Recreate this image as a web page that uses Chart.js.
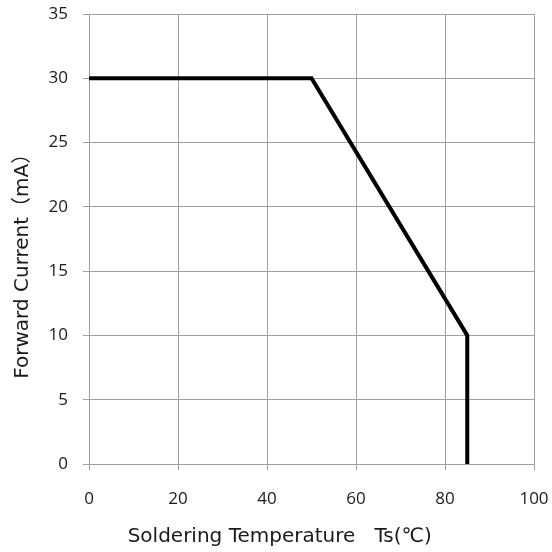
<!DOCTYPE html>
<html>
<head>
<meta charset="utf-8">
<script src="https://cdn.jsdelivr.net/npm/chart.js@4"></script>
<style>
  html, body { margin: 0; padding: 0; background: #fff; }
  #wrap { width: 552px; height: 552px; }
</style>
</head>
<body>
<div id="wrap"><canvas id="derating" width="552" height="552"></canvas></div>
<script>
// Derating curve: forward current vs soldering temperature
const temps = [0, 50, 85, 85];
const currents = [30, 30, 10, 0];
const xTicks = [0, 20, 40, 60, 80, 100];
const yTicks = [0, 5, 10, 15, 20, 25, 30, 35];

const tickFont = "'Open Sans', sans-serif";
const titleFont = "'DejaVu Sans', 'Noto Sans CJK SC', sans-serif";
const gridColor = '#a0a0a0';

// titles in the original sit off-centre; trailing spaces nudge them over
const xTitle = 'Soldering Temperature   Ts(℃)' + ' '.repeat(10);
const yTitle = 'Forward Current（mA）' + ' '.repeat(7);

new Chart(document.getElementById('derating').getContext('2d'), {
    type: 'scatter',
    data: {
        datasets: [{
            data: temps.map((t, i) => ({ x: t, y: currents[i] })),
            showLine: true,
            borderColor: '#000',
            borderWidth: 4,
            pointRadius: 0,
            tension: 0,
            fill: false
        }]
    },
    options: {
        responsive: false,
        animation: false,
        layout: { padding: { left: 11, right: 18, top: 14, bottom: 2 } },
        plugins: {
            legend: { display: false },
            tooltip: { enabled: false }
        },
        scales: {
            x: {
                type: 'linear',
                min: 0,
                max: 100,
                afterBuildTicks: (scale) => { scale.ticks = xTicks.map(v => ({ value: v })); },
                afterFit: (scale) => {
                    scale.height = 86;
                    scale.paddingLeft = 0;
                    scale.paddingRight = 0;
                },
                grid: { color: gridColor, lineWidth: 1, tickLength: 6 },
                border: { color: gridColor, width: 1 },
                ticks: { color: '#1a1a1a', padding: 19, font: { family: tickFont, size: 17 } },
                title: {
                    display: true,
                    text: xTitle,
                    color: '#1a1a1a',
                    padding: { top: 0, bottom: 1 },
                    font: { family: titleFont, size: 20 }
                }
            },
            y: {
                type: 'linear',
                min: 0,
                max: 35,
                afterBuildTicks: (scale) => { scale.ticks = yTicks.map(v => ({ value: v })); },
                afterFit: (scale) => {
                    scale.width = 78;
                    scale.paddingTop = 0;
                    scale.paddingBottom = 0;
                },
                grid: { color: gridColor, lineWidth: 1, tickLength: 6 },
                border: { color: gridColor, width: 1 },
                ticks: { color: '#1a1a1a', padding: 15, font: { family: tickFont, size: 17 } },
                title: {
                    display: true,
                    text: yTitle,
                    color: '#1a1a1a',
                    padding: { top: 0, bottom: 0 },
                    font: { family: titleFont, size: 20 }
                }
            }
        }
    }
});
</script>
</body>
</html>
